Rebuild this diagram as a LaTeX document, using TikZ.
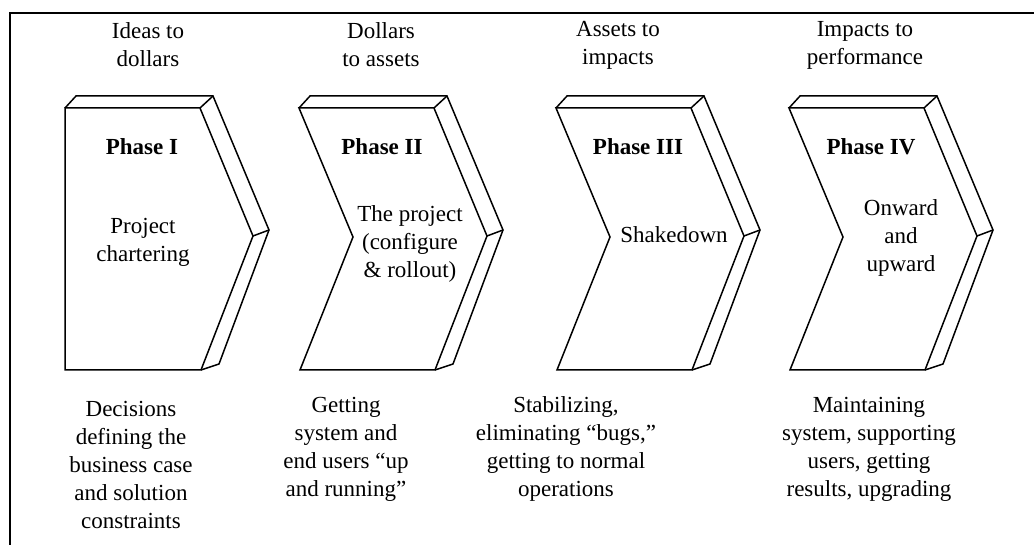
\documentclass[tikz,border=0pt]{standalone}
\usepackage{fontspec}
\setmainfont{Liberation Serif}
\begin{document}
\begin{tikzpicture}[x=1pt,y=-1pt,
  edge/.style={line width=1.5pt,line join=miter},
  txt/.style={align=center,font=\fontsize{23}{28}\selectfont,inner sep=0pt,text=black},
  ph/.style={align=center,font=\fontsize{23}{28}\selectfont\bfseries,inner sep=0pt,text=black},
  chevback/.pic={
    \draw[edge] (0,108) -- (11,96) -- (148,96) -- (204,230) -- (154,364) -- (136,370);
    \draw[edge] (135,108) -- (148,96);
    \draw[edge] (188,236) -- (204,230);
  },
  chevnotch/.pic={
    \draw[edge,fill=white] (0,108) -- (135,108) -- (188,236) -- (136,370) -- (1,370) -- (54,237) -- cycle;
    \pic{chevback};
  },
  chevflat/.pic={
    \draw[edge,fill=white] (0,108) -- (135,108) -- (188,236) -- (136,370) -- (0,370) -- cycle;
    \pic{chevback};
  },
]
\useasboundingbox (0,0) rectangle (1034,545);
% frame
\coordinate (fa) at (10,545);
\coordinate (fb) at (10,13);
\coordinate (fc) at (1034,13);
\draw[line width=1.6pt] (fa) -- (fb) -- (fc);

% chevrons
\pic at (65,0) {chevflat};
\pic at (299,0) {chevnotch};
\pic at (556,0) {chevnotch};
\pic at (789,0) {chevnotch};

% headers
\node[txt] (h1) at (148,45) {Ideas to\\dollars};
\node[txt] (h2) at (381,45) {Dollars\\to assets};
\node[txt] (h3) at (618,45) {Assets to\\impacts};
\node[txt] (h4) at (865,45) {Impacts to\\performance};

% phase titles
\node[ph] (p1) at (142,147) {Phase I};
\node[ph] (p2) at (382,147) {Phase II};
\node[ph] (p3) at (638,147) {Phase III};
\node[ph] (p4) at (871,147) {Phase IV};

% inner descriptions
\node[txt] (d1) at (143,242) {Project\\chartering};
\node[txt] (d2) at (410,244) {The project\\(configure\\\& rollout)};
\node[txt] (d3) at (674,235) {Shakedown};
\node[txt] (d4) at (901,238) {Onward\\and\\upward};

% bottom texts
\node[txt] (b1) at (131,465) {Decisions\\defining the\\business case\\and solution\\constraints};
\node[txt] (b2) at (346,449) {Getting\\system and\\end users “up\\and running”};
\node[txt] (b3) at (566,449) {Stabilizing,\\eliminating “bugs,”\\getting to normal\\operations};
\node[txt] (b4) at (869,449) {Maintaining\\system, supporting\\users, getting\\results, upgrading};
\end{tikzpicture}
\end{document}
